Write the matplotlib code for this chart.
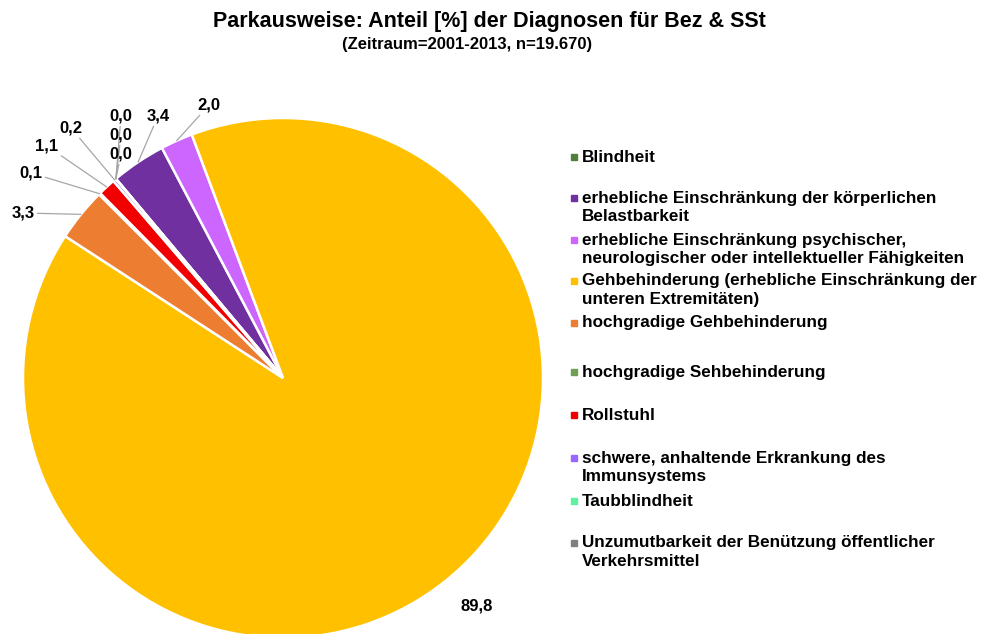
import matplotlib.pyplot as plt
import numpy as np

plt.rcParams['font.family'] = ['Liberation Sans', 'DejaVu Sans']

# Diagnosen und Anteile in %
categories = [
    'Blindheit',
    'erhebliche Einschränkung der körperlichen\nBelastbarkeit',
    'erhebliche Einschränkung psychischer,\nneurologischer oder intellektueller Fähigkeiten',
    'Gehbehinderung (erhebliche Einschränkung der\nunteren Extremitäten)',
    'hochgradige Gehbehinderung',
    'hochgradige Sehbehinderung',
    'Rollstuhl',
    'schwere, anhaltende Erkrankung des\nImmunsystems',
    'Taubblindheit',
    'Unzumutbarkeit der Benützung öffentlicher\nVerkehrsmittel',
]
values = [0.0, 3.4, 2.0, 89.8, 3.3, 0.1, 1.1, 0.2, 0.0, 0.0]
colors = ['#4F7F3A', '#7030A0', '#CC66FF', '#FFC000', '#ED7D31',
          '#6E9F55', '#F00000', '#9966FF', '#5FF0A0', '#808080']

# label positions (pixels) and legend rows (pixels) - layout only
label_pos = [(121, 116), (158, 116), (209, 105), (477, 606), (23, 213),
             (31, 173), (47, 146), (71, 128), (121, 135), (121, 154)]
legend_y = [157, 198, 240, 281, 323, 372, 415, 458, 501, 543]

W, H = 986, 634
fig = plt.figure(figsize=(W / 100, H / 100), dpi=100)

cx, cy, r = 283, 378, 260
ax = fig.add_axes([(cx - r) / W, (H - cy - r) / H, 2 * r / W, 2 * r / H])
wedges, _ = ax.pie(values, colors=colors, startangle=130, counterclock=False,
                   wedgeprops=dict(edgecolor='white', linewidth=1.8))
ax.set_xlim(-1, 1)
ax.set_ylim(-1, 1)
ax.set_aspect('equal')

# overlay in pixel coordinates for texts
lax = fig.add_axes([0, 0, 1, 1])
lax.set_xlim(0, W)
lax.set_ylim(H, 0)
lax.axis('off')
lax.patch.set_visible(False)

for w, v, (px, py) in zip(wedges, values, label_pos):
    mid = np.deg2rad((w.theta1 + w.theta2) / 2)
    txt = f'{v:.1f}'.replace('.', ',')
    if v > 50:
        lax.text(px, py, txt, ha='center', va='center', fontsize=12, fontweight='bold')
        continue
    lax.annotate(txt, xy=(np.cos(mid), np.sin(mid)), xycoords=ax.transData,
                 xytext=(px, py), textcoords=lax.transData,
                 ha='center', va='center', fontsize=12, fontweight='bold',
                 arrowprops=dict(arrowstyle='-', color='#A6A6A6', lw=0.9,
                                 shrinkA=0, shrinkB=0))

# legend
for cat, c, y in zip(categories, colors, legend_y):
    lax.plot(574, y, marker='s', markersize=4.5, color=c, linestyle='none')
    lax.text(582, y - 7.5, cat, ha='left', va='top', fontsize=12.3,
             fontweight='bold', linespacing=1.33)

fig.text(489 / W, 1 - 22 / H, 'Parkausweise: Anteil [%] der Diagnosen für Bez & SSt',
         ha='center', va='center', fontsize=15.5, fontweight='bold')
fig.text(467 / W, 1 - 44 / H, '(Zeitraum=2001-2013, n=19.670)',
         ha='center', va='center', fontsize=12, fontweight='bold')

fig.savefig('out.png', dpi=100)
